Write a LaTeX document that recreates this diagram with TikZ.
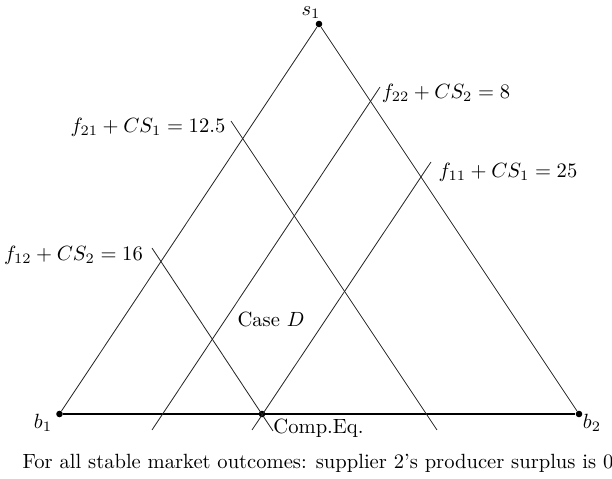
\documentclass[tikz,border=0pt]{standalone}
\begin{document}
\begin{tikzpicture}[x=0.486pt,y=-0.486pt,
  thinline/.style={line width=0.4pt, black!85},
  baseline/.style={line width=0.7pt, black},
  dotnode/.style={circle, fill=black, inner sep=0pt, minimum size=3.2pt},
  lbl/.style={inner sep=0pt}]
\useasboundingbox (0,0) rectangle (612,479);
% vertices
\node[dotnode] (s1) at (319,24) {};
\node[dotnode] (b1) at (59.5,414) {};
\node[dotnode] (b2) at (579,414) {};
\node[dotnode] (ce) at (262,414) {};
% triangle
\draw[thinline] (b1) -- (s1) -- (b2);
\draw[baseline] (b1) -- (b2);
% level lines
\coordinate (f22a) at (152,430);
\coordinate (f22b) at (380,87);
\coordinate (f11a) at (252,430);
\coordinate (f11b) at (431,162);
\coordinate (f21a) at (231,121);
\coordinate (f21b) at (437,430);
\coordinate (f12a) at (152,248);
\coordinate (f12b) at (273,431);
\draw[thinline] (f22a) -- (f22b);
\draw[thinline] (f11a) -- (f11b);
\draw[thinline] (f21a) -- (f21b);
\draw[thinline] (f12a) -- (f12b);
% labels
\node[lbl] (ls1) at (311,13) {$s_1$};
\node[lbl] (lb1) at (43,423) {$b_1$};
\node[lbl] (lb2) at (592,423) {$b_2$};
\node[lbl] (lce) at (318.5,428) {Comp.Eq.};
\node[lbl] (lcd) at (271,319) {Case $D$};
\node[lbl] (l21) at (148,127) {$f_{21}+CS_1=12.5$};
\node[lbl] (l12) at (73.5,255) {$f_{12}+CS_2=16$};
\node[lbl] (l22) at (446,93) {$f_{22}+CS_2=8$};
\node[lbl] (l11) at (508,172) {$f_{11}+CS_1=25$};
\node[lbl] (cap) at (318,463) {For all stable market outcomes: supplier 2's producer surplus is 0};
\end{tikzpicture}
\end{document}
